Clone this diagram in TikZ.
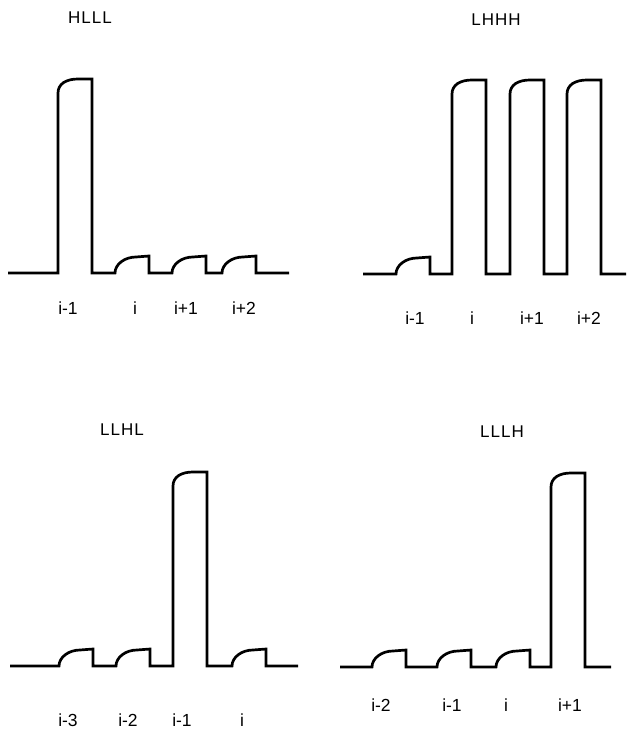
\documentclass[tikz,border=0pt]{standalone}
\usepackage{fontspec}
\setmainfont{Liberation Sans}
\begin{document}
\begin{tikzpicture}[x=1pt,y=-1pt,
  wave/.style={line width=2.7pt, line join=miter},
  lowpulse/.style={insert path={.. controls +(0,-9) and +(-11,0) .. ++(21,-16) -- ++(13,-1) -- ++(0,17)}},
  highpulse/.style={insert path={-- ++(0,-180) .. controls +(0,-9) and +(-12,0) .. ++(20,-14) -- ++(14,0) -- ++(0,194)}},
  ttl/.style={font=\fontsize{17}{19}\selectfont\addfontfeature{LetterSpace=6}, inner sep=0pt},
  lbl/.style={font=\fontsize{17.5}{19}\selectfont, inner sep=0pt}]
\useasboundingbox (0,0) rectangle (626,730);

% HLLL
\node[ttl] (t1) at (90,18) {HLLL};
\draw[wave] (8,273) -- (58,273) [highpulse] -- (115,273) [lowpulse]
  -- (172,273) [lowpulse] -- (222,273) [lowpulse] -- (289,273);
\node[lbl] (a1) at (68,308) {i-1};
\node[lbl] (a2) at (135,308) {i};
\node[lbl] (a3) at (186,308) {i+1};
\node[lbl] (a4) at (244,308) {i+2};

% LHHH
\node[ttl] (t2) at (496,20) {LHHH};
\draw[wave] (363,274) -- (396,274) [lowpulse] -- (452,274) [highpulse]
  -- (510,274) [highpulse] -- (567,274) [highpulse] -- (626,274);
\node[lbl] (b1) at (415,318) {i-1};
\node[lbl] (b2) at (472,318) {i};
\node[lbl] (b3) at (532,318) {i+1};
\node[lbl] (b4) at (589,318) {i+2};

% LLHL
\node[ttl] (t3) at (122,430) {LLHL};
\draw[wave] (10,666) -- (59,666) [lowpulse] -- (116,666) [lowpulse]
  -- (173,666) [highpulse] -- (232,666) [lowpulse] -- (298,666);
\node[lbl] (c1) at (68,720) {i-3};
\node[lbl] (c2) at (128,720) {i-2};
\node[lbl] (c3) at (182,720) {i-1};
\node[lbl] (c4) at (242,720) {i};

% LLLH
\node[ttl] (t4) at (502,432) {LLLH};
\draw[wave] (340,667) -- (372,667) [lowpulse] -- (437,667) [lowpulse]
  -- (496,667) [lowpulse] -- (551,667) [highpulse] -- (611,667);
\node[lbl] (d1) at (381,705) {i-2};
\node[lbl] (d2) at (452,705) {i-1};
\node[lbl] (d3) at (506,705) {i};
\node[lbl] (d4) at (570,705) {i+1};
\end{tikzpicture}
\end{document}
